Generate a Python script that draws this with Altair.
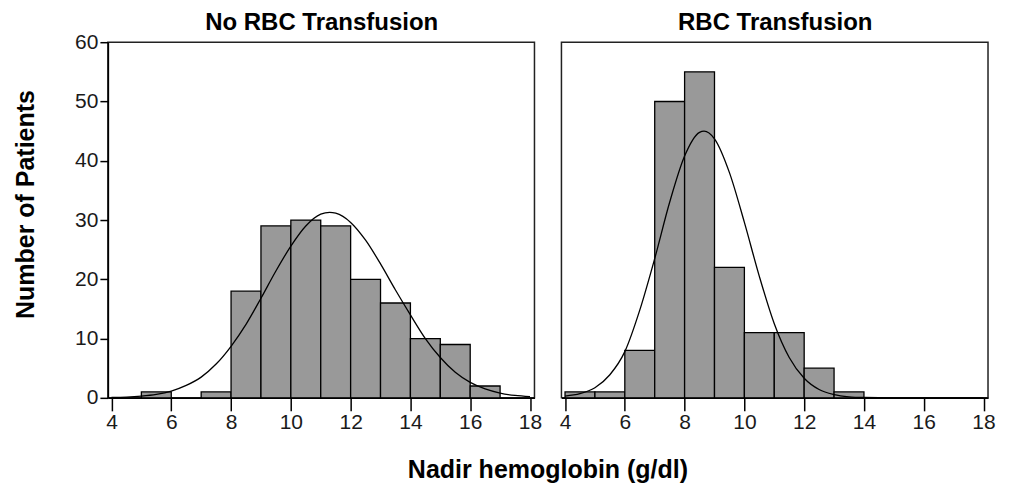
import altair as alt
import pandas as pd

# Histogram bins (bin start, width 1) and counts
left_start = [5, 7, 8, 9, 10, 11, 12, 13, 14, 15, 16]
left_count = [1, 1, 18, 29, 30, 29, 20, 16, 10, 9, 2]
right_start = [4, 5, 6, 7, 8, 9, 10, 11, 12, 13]
right_count = [1, 1, 8, 50, 55, 22, 11, 11, 5, 1]

# Fitted normal curve
left_curve_x = [4, 4.5, 5, 5.5, 6, 6.5, 7, 7.5, 8, 8.5, 9, 9.5, 10, 10.5, 11, 11.3, 11.5,
                12, 12.5, 13, 13.5, 14, 14.5, 15, 15.5, 16, 16.5, 17, 17.5, 18]
left_curve_y = [0.06, 0.13, 0.3, 0.6, 1.15, 2.1, 3.5, 5.7, 8.7, 12.4, 16.8, 21.4, 25.6, 29.0,
                31.0, 31.3, 31.15, 29.6, 26.6, 22.6, 18.2, 14.0, 10.0, 6.8, 4.3, 2.6, 1.5,
                0.8, 0.4, 0.2]
right_curve_x = [4, 4.5, 5, 5.5, 6, 6.5, 7, 7.5, 8, 8.5, 8.65, 9, 9.5, 10, 10.5, 11, 11.5,
                 12, 12.5, 13, 13.5, 14, 15, 16, 17, 18]
right_curve_y = [0.3, 0.7, 1.7, 3.9, 7.8, 14.8, 23.5, 33.0, 40.8, 44.8, 45.0, 43.7, 38.0,
                 29.6, 20.5, 12.5, 6.8, 3.3, 1.4, 0.55, 0.18, 0.06, 0.0, 0.0, 0.0, 0.0]

x_ticks = [4, 6, 8, 10, 12, 14, 16, 18]
y_ticks = [0, 10, 20, 30, 40, 50, 60]

FONT = "Liberation Sans"
X_DOMAIN = [3.88, 18.15]
Y_DOMAIN = [0, 60]


def panel(starts, counts, cx, cy, title, first):
    bars = pd.DataFrame({"start": starts, "end": [s + 1 for s in starts], "count": counts})
    curve = pd.DataFrame({"x": cx, "y": cy})

    common_x = dict(
        values=x_ticks, tickSize=13, tickWidth=1.5, tickColor="black",
        domainColor="black", domainWidth=1.5, labelFontSize=21, labelFont=FONT,
        labelColor="#1a1a1a", labelPadding=1, grid=False, orient="bottom",
    )
    if first:
        xaxis = alt.Axis(
            **common_x,
            title="Nadir hemoglobin (g/dl)",
            titleFontSize=25, titleFont=FONT, titleFontWeight="bold", titleColor="black",
            titleX=440, titleY=80, titleBaseline="alphabetic", titleAnchor="middle",
        )
        yaxis = alt.Axis(
            values=y_ticks, tickSize=8, tickWidth=1.5, tickColor="black",
            domainColor="black", domainWidth=1.5, labelFontSize=21, labelFont=FONT,
            labelColor="#1a1a1a", labelPadding=2, grid=False,
            title="Number of Patients", titleFontSize=25, titleFont=FONT,
            titleFontWeight="bold", titleColor="black", titleX=-82, titleY=162,
            titleBaseline="middle", titleAngle=-90,
        )
    else:
        xaxis = alt.Axis(**common_x, title=None)
        yaxis = None

    # top axis used only to carry the panel title
    top_axis = alt.Axis(
        orient="top", labels=False, ticks=False, domain=False, grid=False,
        title=title, titleFontSize=24, titleFont=FONT, titleFontWeight="bold",
        titleColor="black", titleBaseline="alphabetic", titleAnchor="middle",
        titleY=-13,
    )

    xs = alt.Scale(domain=X_DOMAIN, nice=False, zero=False)
    ys = alt.Scale(domain=Y_DOMAIN, nice=False)

    b = alt.Chart(bars).mark_rect(fill="#999999", stroke="black", strokeWidth=1.3).encode(
        x=alt.X("start:Q", scale=xs, axis=xaxis),
        x2="end:Q",
        y=alt.Y("count:Q", scale=ys, axis=yaxis),
        y2=alt.datum(0),
    )
    line = alt.Chart(curve).mark_line(color="black", strokeWidth=1.3, interpolate="monotone").encode(
        x=alt.X("x:Q", scale=xs, axis=top_axis),
        y=alt.Y("y:Q", scale=ys, axis=yaxis),
    )
    return alt.layer(b, line).properties(width=427, height=356)


left = panel(left_start, left_count, left_curve_x, left_curve_y, "No RBC Transfusion", True)
right = panel(right_start, right_count, right_curve_x, right_curve_y, "RBC Transfusion", False)

chart = alt.hconcat(left, right, spacing=27, bounds="flush").properties(
    padding={"left": 5, "top": 1, "right": 5, "bottom": 0},
    background="white",
).configure_view(stroke="#222222", strokeWidth=1.5)

chart.save("out.html", embed_options={"renderer": "svg", "actions": False})
